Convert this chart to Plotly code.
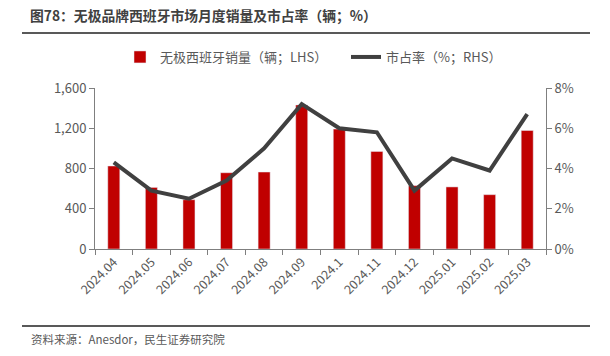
import plotly.graph_objects as go

categories = ["2024.04", "2024.05", "2024.06", "2024.07", "2024.08", "2024.09",
              "2024.1", "2024.11", "2024.12", "2025.01", "2025.02", "2025.03"]
sales = [825, 612, 490, 758, 765, 1432, 1192, 970, 630, 617, 540, 1178]
share = [4.3, 2.9, 2.5, 3.4, 5.0, 7.2, 6.0, 5.8, 2.9, 4.5, 3.9, 6.7]
left_ticks = [0, 400, 800, 1200, 1600]
right_ticks = [0, 2, 4, 6, 8]
right_tick_labels = ["0%", "2%", "4%", "6%", "8%"]

title_text = "图78：无极品牌西班牙市场月度销量及市占率（辆；%）"
source_text = "资料来源：Anesdor，民生证券研究院"
bar_name = "无极西班牙销量（辆；LHS）"
line_name = "市占率（%；RHS）"

FONT = "Noto Sans CJK SC"
GRAY = "#595959"
W, H = 610, 356

fig = go.Figure()
fig.add_trace(go.Bar(x=categories, y=sales, name=bar_name, marker_color="#C00000",
                     width=0.32, yaxis="y"))
fig.add_trace(go.Scatter(x=categories, y=share, name=line_name, mode="lines",
                         line=dict(color="#404040", width=4), yaxis="y2"))

fig.update_layout(
    width=W, height=H,
    margin=dict(l=95, r=64, t=88, b=107, autoexpand=False),
    paper_bgcolor="white", plot_bgcolor="white",
    font=dict(family=FONT, color=GRAY, size=13),
    showlegend=True,
    legend=dict(orientation="h", xref="container", yref="container",
                x=120 / W, y=1 - 57 / H, xanchor="left", yanchor="middle",
                font=dict(size=13, color=GRAY), itemwidth=30, tracegroupgap=0,
                entrywidth=181, entrywidthmode="pixels",
                bgcolor="rgba(0,0,0,0)"),
    xaxis=dict(type="category", showline=True, linecolor="#7f7f7f", linewidth=1,
               ticks="outside", tickson="boundaries", ticklen=5, tickcolor="#7f7f7f",
               tickangle=-45, tickfont=dict(size=12.5, color=GRAY), showgrid=False,
               automargin=False),
    yaxis=dict(range=[0, 1600], tickvals=left_ticks,
               tickformat=",", showline=True, linecolor="#7f7f7f", linewidth=1,
               ticks="outside", ticklen=5, tickcolor="#7f7f7f", showgrid=False,
               zeroline=False, tickfont=dict(size=13, color=GRAY), automargin=False),
    yaxis2=dict(range=[0, 8], tickmode="array", tickvals=right_ticks, ticktext=right_tick_labels,
                overlaying="y", side="right", showline=True, linecolor="#7f7f7f",
                linewidth=1, ticks="outside", ticklen=5, tickcolor="#7f7f7f",
                showgrid=False, zeroline=False, tickfont=dict(size=13, color=GRAY),
                automargin=False),
)

# paper coords relative to plot area: left edge x=95, width 451; bottom y=249, height 161
fig.add_annotation(text="<b>" + title_text + "</b>", xref="paper", yref="paper",
                   x=(29 - 95) / 451, y=(249 - 14.5) / 161, xanchor="left", yanchor="middle",
                   showarrow=False, borderpad=0,
                   font=dict(size=13.8, color="#404040", family=FONT))
fig.add_annotation(text=source_text, xref="paper", yref="paper",
                   x=(29 - 95) / 451, y=(249 - 339) / 161, xanchor="left", yanchor="middle",
                   showarrow=False, font=dict(size=11.5, color=GRAY, family=FONT))
fig.add_shape(type="line", xref="paper", yref="paper",
              x0=(22 - 95) / 451, x1=(590 - 95) / 451,
              y0=(249 - 33) / 161, y1=(249 - 33) / 161,
              line=dict(color="#595959", width=2))
fig.add_shape(type="line", xref="paper", yref="paper",
              x0=(22 - 95) / 451, x1=(590 - 95) / 451,
              y0=(249 - 326) / 161, y1=(249 - 326) / 161,
              line=dict(color="#595959", width=2))

fig.write_html("out.html", config={"displayModeBar": False},
               post_script="document.body.style.margin='0px';")
